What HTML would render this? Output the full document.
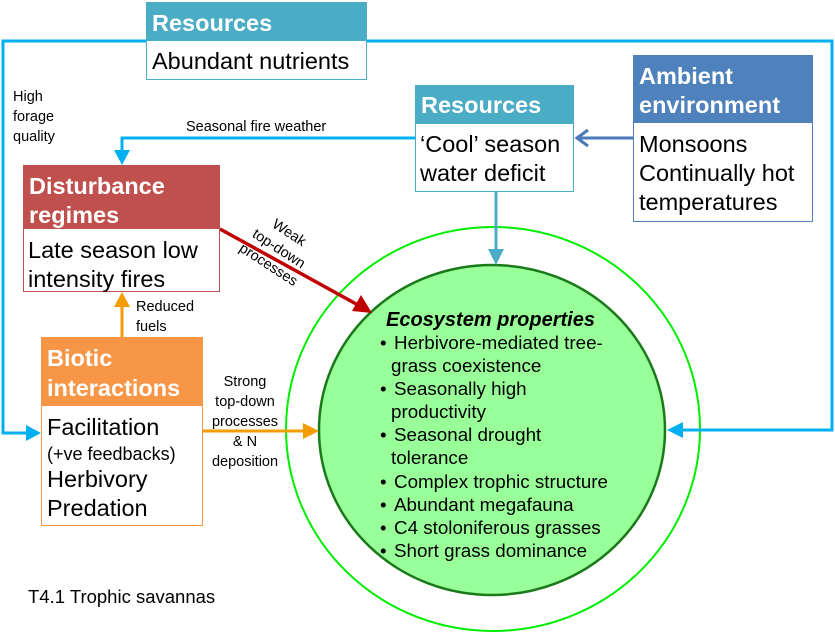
<!DOCTYPE html>
<html><head><meta charset="utf-8"><style>
body{margin:0;background:#fff}
svg{display:block}
.h{font-family:"Liberation Sans",sans-serif;font-weight:bold;font-size:23.5px;fill:#fff}
.b{font-family:"Liberation Sans",sans-serif;font-size:23.5px;fill:#000}
.l{font-family:"Liberation Sans",sans-serif;font-size:14.5px;fill:#000}
.c{font-family:"Liberation Sans",sans-serif;font-size:18.8px;fill:#000}
</style></head><body>
<svg width="835" height="632" viewBox="0 0 835 632" xmlns="http://www.w3.org/2000/svg">
<ellipse cx="493" cy="429" rx="207" ry="202" fill="none" stroke="#00ee00" stroke-width="2"/>
<ellipse cx="492" cy="430" rx="173" ry="165" fill="#99ff99" stroke="#1a7a1a" stroke-width="2.5"/>
<polyline points="146,41 3,41 3,433 28,433" fill="none" stroke="#00b0f0" stroke-width="3"/>
<polygon points="41,433 26,425 26,441" fill="#00b0f0"/>
<polyline points="367,41 832,41 832,430 682,430" fill="none" stroke="#00b0f0" stroke-width="3"/>
<polygon points="667,430 683,422 683,438" fill="#00b0f0"/>
<polyline points="415,138 122,138 122,152" fill="none" stroke="#00b0f0" stroke-width="3"/>
<polygon points="122,165 114,150 130,150" fill="#00b0f0"/>
<line x1="633" y1="138" x2="580" y2="138" stroke="#4a78b8" stroke-width="3"/>
<polyline points="588,130 577,138 588,146" fill="none" stroke="#4a78b8" stroke-width="3"/>
<line x1="496" y1="192" x2="496" y2="252" stroke="#4bacc6" stroke-width="3"/>
<polygon points="496,265 488,249 504,249" fill="#4bacc6"/>
<line x1="220" y1="229" x2="358" y2="305" stroke="#c00000" stroke-width="3.5"/>
<polygon points="372,313 352,311 361,295" fill="#c00000"/>
<line x1="122" y1="337" x2="122" y2="305" stroke="#f59c00" stroke-width="3"/>
<polygon points="122,292 114,307 130,307" fill="#f59c00"/>
<line x1="203" y1="431" x2="306" y2="431" stroke="#f59c00" stroke-width="3"/>
<polygon points="319,431 303,423 303,439" fill="#f59c00"/>

<rect x="146.5" y="2.5" width="220" height="77" fill="#fff" stroke="#4bacc6"/>
<rect x="146" y="2" width="221" height="39" fill="#4bacc6"/>
<text class="h" x="152" y="31">Resources</text>
<text class="b" x="152" y="69">Abundant nutrients</text>
<rect x="415.5" y="85.5" width="158" height="106" fill="#fff" stroke="#4bacc6"/>
<rect x="415" y="85" width="159" height="39" fill="#4bacc6"/>
<text class="h" x="421" y="113">Resources</text>
<text class="b" x="420" y="152">‘Cool’ season</text>
<text class="b" x="420" y="181">water deficit</text>
<rect x="633.5" y="55.5" width="179" height="166" fill="#fff" stroke="#4f81bd"/>
<rect x="633" y="55" width="180" height="68" fill="#4f81bd"/>
<text class="h" x="639" y="84">Ambient</text>
<text class="h" x="639" y="113">environment</text>
<text class="b" x="639" y="152">Monsoons</text>
<text class="b" x="639" y="181">Continually hot</text>
<text class="b" x="639" y="210">temperatures</text>
<rect x="23.5" y="165.5" width="196" height="126" fill="#fff" stroke="#c0504d"/>
<rect x="23" y="165" width="197" height="64" fill="#c0504d"/>
<text class="h" x="29" y="194">Disturbance</text>
<text class="h" x="29" y="223">regimes</text>
<text class="b" x="28" y="258">Late season low</text>
<text class="b" x="28" y="287">intensity fires</text>
<rect x="41.5" y="337.5" width="161" height="188" fill="#fff" stroke="#f79646"/>
<rect x="41" y="337" width="162" height="69" fill="#f79646"/>
<text class="h" x="47" y="366">Biotic</text>
<text class="h" x="47" y="396">interactions</text>
<text class="b" x="47" y="435">Facilitation</text>
<text x="47" y="460" style="font-family:'Liberation Sans',sans-serif;font-size:18px">(+ve feedbacks)</text>
<text class="b" x="47" y="487">Herbivory</text>
<text class="b" x="47" y="516">Predation</text>

<text class="l" x="13" y="101">High</text>
<text class="l" x="13" y="121">forage</text>
<text class="l" x="13" y="141">quality</text>
<text class="l" x="186" y="131">Seasonal fire weather</text>
<text class="l" x="136" y="311">Reduced</text>
<text class="l" x="136" y="331">fuels</text>
<g text-anchor="middle">
<text class="l" x="245" y="386">Strong</text>
<text class="l" x="245" y="406">top-down</text>
<text class="l" x="245" y="426">processes</text>
<text class="l" x="245" y="446">&amp; N</text>
<text class="l" x="245" y="466">deposition</text>
</g>
<g transform="translate(278,250) rotate(33)" text-anchor="middle">
<text class="l" x="0" y="-16">Weak</text>
<text class="l" x="0" y="3">top-down</text>
<text class="l" x="0" y="22">processes</text>
</g>
<text x="28" y="603" style="font-family:'Liberation Sans',sans-serif;font-size:18.5px">T4.1 Trophic savannas</text>

<text x="386" y="326" style="font-family:'Liberation Sans',sans-serif;font-size:20px;font-weight:bold;font-style:italic">Ecosystem properties</text>
<g>
<text class="c" x="380" y="349">•</text><text class="c" x="394" y="349">Herbivore-mediated tree-</text>
<text class="c" x="391" y="372">grass coexistence</text>
<text class="c" x="380" y="395">•</text><text class="c" x="394" y="395">Seasonally high</text>
<text class="c" x="391" y="418">productivity</text>
<text class="c" x="380" y="441">•</text><text class="c" x="394" y="441">Seasonal drought</text>
<text class="c" x="391" y="464">tolerance</text>
<text class="c" x="380" y="488">•</text><text class="c" x="394" y="488">Complex trophic structure</text>
<text class="c" x="380" y="511">•</text><text class="c" x="394" y="511">Abundant megafauna</text>
<text class="c" x="380" y="534">•</text><text class="c" x="394" y="534">C4 stoloniferous grasses</text>
<text class="c" x="380" y="557">•</text><text class="c" x="394" y="557">Short grass dominance</text>
</g>
</svg>
</body></html>
